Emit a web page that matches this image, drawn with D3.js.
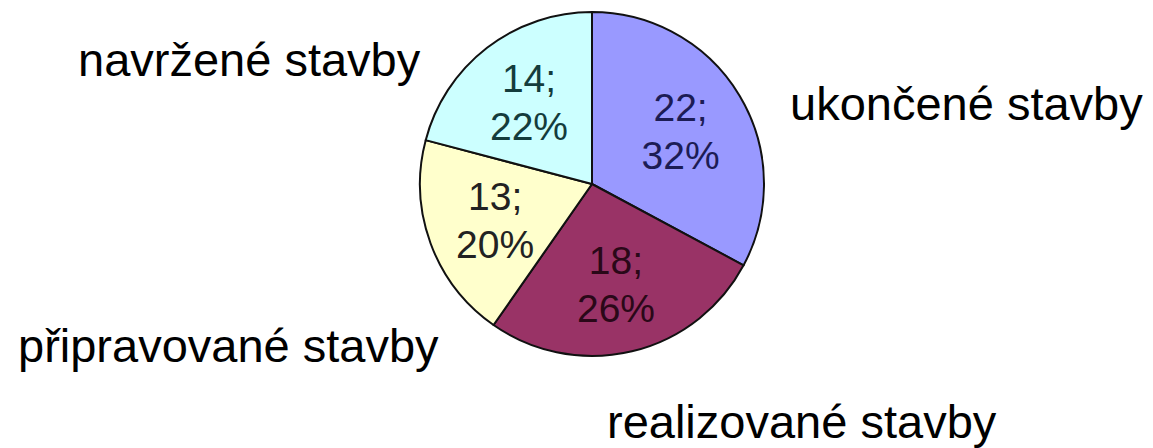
<!DOCTYPE html>
<meta charset="utf-8">
<style>
  body { margin: 0; background: #fff; }
  text { font-family: "Liberation Sans", Arial, sans-serif; }
</style>
<svg width="1153" height="448"></svg>
<script src="https://d3js.org/d3.v7.min.js"></script>
<script>

var categories = ["ukončené stavby", "realizované stavby", "připravované stavby", "navržené stavby"],
    values = [22, 18, 13, 14],
    percents = ["32%", "26%", "20%", "22%"],
    colors = ["#9999ff", "#993366", "#ffffcc", "#ccffff"],
    textColors = ["#1c1c55", "#2a0818", "#222", "#143c3c"];

var svg = d3.select("svg"),
    cx = 592, cy = 184, r = 172,
    g = svg.append("g").attr("transform", "translate(" + cx + "," + cy + ")");

var pie = d3.pie().sort(null).value(function(d) { return d; });
var arcs = pie(values);

var arc = d3.arc().innerRadius(0).outerRadius(r);
var labelArc = d3.arc().innerRadius(0).outerRadius(r * 1.2);

g.selectAll("path")
  .data(arcs)
  .enter().append("path")
    .attr("d", arc)
    .attr("fill", function(d, i) { return colors[i]; })
    .attr("stroke", "#111")
    .attr("stroke-width", 2)
    .attr("stroke-linejoin", "round");

// value; percent labels inside slices
var lab = g.selectAll("g.lab")
  .data(arcs)
  .enter().append("g")
    .attr("class", "lab")
    .attr("transform", function(d) { var c = labelArc.centroid(d); return "translate(" + c[0] + "," + c[1] + ")"; });

lab.append("text")
    .attr("text-anchor", "middle")
    .attr("y", -10)
    .attr("font-size", 39)
    .attr("fill", function(d, i) { return textColors[i]; })
    .text(function(d) { return d.data + ";"; });

lab.append("text")
    .attr("text-anchor", "middle")
    .attr("y", 38)
    .attr("font-size", 39)
    .attr("fill", function(d, i) { return textColors[i]; })
    .text(function(d, i) { return percents[i]; });

// category names around the pie
var namePos = [
  {x: 790, y: 120, anchor: "start"},
  {x: 607, y: 438, anchor: "start"},
  {x: 18, y: 362, anchor: "start"},
  {x: 78, y: 76, anchor: "start"}
];

svg.selectAll("text.name")
  .data(categories)
  .enter().append("text")
    .attr("class", "name")
    .attr("x", function(d, i) { return namePos[i].x; })
    .attr("y", function(d, i) { return namePos[i].y; })
    .attr("text-anchor", function(d, i) { return namePos[i].anchor; })
    .attr("font-size", 47)
    .attr("fill", "#000")
    .text(function(d) { return d; });

</script>
